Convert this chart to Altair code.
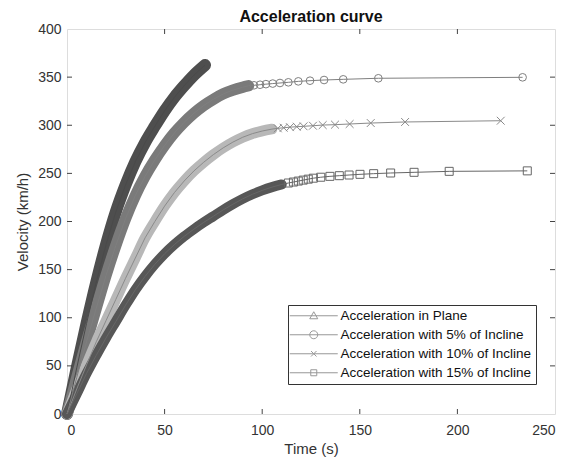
import altair as alt
import pandas as pd

series_names = [
    "Acceleration in Plane",
    "Acceleration with 5% of Incline",
    "Acceleration with 10% of Incline",
    "Acceleration with 15% of Incline",
]

# Dense (overlapping markers) part of each curve: time (s), velocity (km/h)
plane_t = [0, 5, 10, 15, 20, 25, 30, 35, 40, 45, 50, 55, 60, 65, 70.7]
plane_v = [0, 48, 94, 137, 176, 210, 238, 262, 282, 299, 315, 329, 341, 352, 362.5]

inc5_t = [0, 5, 10, 15, 20, 25, 30, 35, 40, 45, 50, 55, 60, 65, 70, 75, 80, 85, 90, 93]
inc5_v = [0, 38, 75, 110, 144, 175, 203, 227, 247, 264, 279, 292, 303, 312.5, 320.5, 327, 332.5, 336.5, 339.5, 341]

inc10_t = [0, 5, 10, 15, 20, 25, 30, 35, 40, 45, 50, 55, 60, 65, 70, 75, 80, 85, 90, 95, 100, 105]
inc10_v = [0, 26, 51, 75, 97, 119, 141, 162, 183, 200, 216, 230, 242, 252.5, 261.5, 269.5, 276.5, 282.5, 287.5, 291.3, 294, 296]

inc15_t = [0, 5, 10, 15, 20, 25, 30, 35, 40, 45, 50, 55, 60, 65, 70, 75, 80, 85, 90, 95, 100, 105, 110]
inc15_v = [0, 21, 42, 61, 79, 96, 113, 129, 143, 155.5, 166.5, 176, 184.5, 192, 199, 205.5, 212, 218, 223.5, 228.3, 232.3, 235.7, 238.5]

# Sparse tail markers
inc5_tail_t = [95.8, 98.9, 101.9, 105.4, 109.1, 113.4, 118.5, 124.5, 131.7, 141.5, 159.5, 233.4]
inc5_tail_v = [341.5, 342.1, 342.7, 343.3, 343.9, 344.6, 345.6, 346.3, 347.0, 347.7, 348.8, 349.8]

inc10_tail_t = [108, 111, 114.2, 117.7, 121.2, 126, 131, 137.3, 144.8, 155.6, 173.2, 222.2]
inc10_tail_v = [296.8, 297.4, 298, 298.5, 298.9, 299.5, 300.2, 300.6, 301.3, 302.3, 303.4, 304.7]

inc15_tail_t = [113.4, 116, 118.5, 121, 123.6, 126.2, 130, 134.7, 139.5, 144.5, 150.1, 157.1, 165.8, 177.8, 195.8, 235.8]
inc15_tail_v = [240, 241, 242, 243, 244, 245, 246, 246.9, 247.6, 248.3, 249, 249.7, 250.4, 251.1, 252.1, 252.6]

x_ticks = [0, 50, 100, 150, 200, 250]
y_ticks = [0, 50, 100, 150, 200, 250, 300, 350, 400]

rows = []
def add(name, ts, vs, part):
    for t, v in zip(ts, vs):
        rows.append({"series": name, "t": t, "v": v, "part": part})

add(series_names[0], plane_t, plane_v, "dense")
add(series_names[1], inc5_t, inc5_v, "dense")
add(series_names[1], inc5_tail_t, inc5_tail_v, "tail")
add(series_names[2], inc10_t, inc10_v, "dense")
add(series_names[2], inc10_tail_t, inc10_tail_v, "tail")
add(series_names[3], inc15_t, inc15_v, "dense")
add(series_names[3], inc15_tail_t, inc15_tail_v, "tail")
df = pd.DataFrame(rows)
df["order"] = range(len(df))

W, H = 488, 385
FONT = "Liberation Sans"
TXT = "#333333"

x_scale = alt.Scale(domain=[0, 250], nice=False, zero=False)
y_scale = alt.Scale(domain=[0, 400], nice=False, zero=False)

x_axis = alt.Axis(values=x_ticks, title="Time (s)", grid=False, ticks=False, domain=False,
                  labelFont=FONT, labelFontSize=14, labelColor=TXT, labelPadding=9,
                  titleFont=FONT, titleFontSize=15, titleFontWeight="normal", titleColor=TXT,
                  titlePadding=4)
y_axis = alt.Axis(values=y_ticks, title="Velocity (km/h)", grid=False, ticks=False, domain=False,
                  labelFont=FONT, labelFontSize=14, labelColor=TXT, labelPadding=6,
                  titleFont=FONT, titleFontSize=15, titleFontWeight="normal", titleColor=TXT,
                  titlePadding=7)

X = alt.X("t:Q", scale=x_scale, axis=x_axis)
Y = alt.Y("v:Q", scale=y_scale, axis=y_axis)

band_colors = ["#4e4e4e", "#7a7a7a", "#b8b8b8", "#575757"]
line_colors = ["#4a4a4a", "#7f7f7f", "#8a8a8a", "#666666"]
band_widths = [12, 10, 8, 11]

marker_paths = ["M0,-1L1,0.75L-1,0.75Z", "circle", "M-1,-1L1,1M-1,1L1,-1", "square"]
marker_sizes = [56, 64, 36, 40]

# legend symbols: line sample with marker in the middle (marker centred 3 units right)
legend_paths = [
    "M-1.8,0H7.8M3,-0.8L3.8,0.6L2.2,0.6Z",
    "M-1.8,0H7.8M3.8,0A0.8,0.8,0,1,1,2.2,0A0.8,0.8,0,1,1,3.8,0",
    "M-1.8,0H7.8M2.45,-0.55L3.55,0.55M2.45,0.55L3.55,-0.55",
    "M-1.8,0H7.8M2.4,-0.6H3.6V0.6H2.4Z",
]

base = alt.Chart(df)

band = base.transform_filter("datum.part == 'dense'").mark_line(
    interpolate="monotone", strokeCap="round", strokeJoin="round"
).encode(
    x=X, y=Y,
    stroke=alt.Stroke("series:N", scale=alt.Scale(domain=series_names, range=band_colors), legend=None),
    strokeWidth=alt.StrokeWidth("series:N", scale=alt.Scale(domain=series_names, range=band_widths), legend=None),
    order="order:Q",
)

thin = base.mark_line(strokeWidth=1).encode(
    x=X, y=Y,
    color=alt.Color("series:N", scale=alt.Scale(domain=series_names, range=line_colors), legend=None),
    order="order:Q",
)

pts = base.transform_filter("datum.part == 'tail'").mark_point(filled=False, strokeWidth=1, opacity=1).encode(
    x=X, y=Y,
    color=alt.Color("series:N", scale=alt.Scale(domain=series_names, range=line_colors), legend=None),
    shape=alt.Shape("series:N", scale=alt.Scale(domain=series_names, range=marker_paths), legend=None),
    size=alt.Size("series:N", scale=alt.Scale(domain=series_names, range=marker_sizes), legend=None),
)

legend_layer = base.transform_filter("false").mark_point(
    filled=False, color="#6e6e6e", strokeWidth=1
).encode(
    x=X, y=Y,
    shape=alt.Shape("series:N", scale=alt.Scale(domain=series_names, range=legend_paths),
                    legend=alt.Legend(title=None, orient="none", legendX=221, legendY=276,
                                      symbolSize=100, symbolStrokeWidth=1,
                                      symbolStrokeColor="#6e6e6e", symbolFillColor="transparent",
                                      labelOffset=35, labelFont=FONT, labelFontSize=13.5,
                                      labelColor="#111111", labelLimit=400,
                                      strokeColor="#333333", fillColor="white",
                                      padding=4, rowPadding=4)),
)

xt_df = pd.DataFrame({"t": x_ticks[1:-1]})
yt_df = pd.DataFrame({"v": y_ticks[1:-1]})

xt_bottom = alt.Chart(xt_df).mark_rule(color="#444444", strokeWidth=1).encode(
    x=X, y=alt.value(H), y2=alt.value(H - 5))
xt_top = alt.Chart(xt_df).mark_rule(color="#444444", strokeWidth=1).encode(
    x=X, y=alt.value(0), y2=alt.value(5))
yt_left = alt.Chart(yt_df).mark_rule(color="#444444", strokeWidth=1).encode(
    y=Y, x=alt.value(0), x2=alt.value(5))
yt_right = alt.Chart(yt_df).mark_rule(color="#444444", strokeWidth=1).encode(
    y=Y, x=alt.value(W - 5), x2=alt.value(W))

chart = alt.layer(
    band, thin, pts, legend_layer, xt_bottom, xt_top, yt_left, yt_right
).resolve_scale(
    shape="independent"
).properties(
    width=W, height=H,
    title=alt.TitleParams("Acceleration curve", font=FONT, fontSize=16, fontWeight="bold",
                          color="#111111", offset=-3),
    padding={"left": 59, "top": 21, "right": 12, "bottom": 44},
    autosize=alt.AutoSizeParams(type="none"),
).configure_view(
    stroke="#444444", strokeWidth=1
).configure(background="white")

chart.save("out.html", embed_options={"renderer": "svg", "actions": False})
